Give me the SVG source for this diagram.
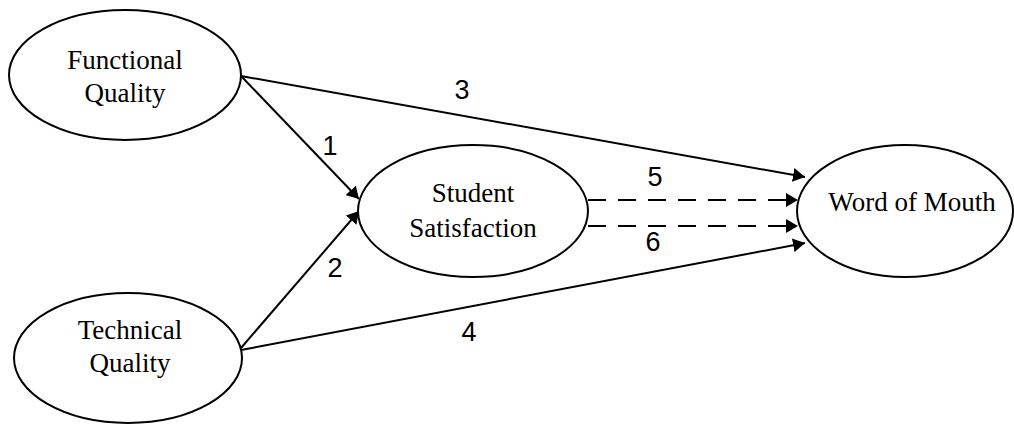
<svg xmlns="http://www.w3.org/2000/svg" width="1014" height="426" viewBox="0 0 1014 426">
<style>
.node ellipse{fill:#fff;stroke:#000;stroke-width:2}
.lbl{font-family:"Liberation Serif","Times New Roman",serif;font-size:27px;fill:#000;text-anchor:middle}
.num{font-family:"Liberation Sans",Arial,sans-serif;font-size:27px;fill:#000;text-anchor:middle}
.edge{stroke:#000;stroke-width:2;fill:none}
.dash{stroke-dasharray:18 12}
</style>
<defs>
<marker id="ah" viewBox="0 0 12 14" refX="12" refY="7" markerWidth="12" markerHeight="14" markerUnits="userSpaceOnUse" orient="auto">
<path d="M0,0 L12,7 L0,14 Z" fill="#000"/>
</marker>
</defs>
<rect width="1014" height="426" fill="#fff"/>
<g id="connectors">
<line class="edge" x1="241" y1="76" x2="359" y2="199" marker-end="url(#ah)"/>
<line class="edge" x1="241" y1="76" x2="805" y2="177" marker-end="url(#ah)"/>
<line class="edge" x1="241" y1="348" x2="359" y2="211" marker-end="url(#ah)"/>
<line class="edge" x1="241" y1="350" x2="805" y2="243" marker-end="url(#ah)"/>
<line class="edge dash" x1="588" y1="200" x2="798" y2="200" marker-end="url(#ah)"/>
<line class="edge dash" x1="588" y1="226" x2="798" y2="226" marker-end="url(#ah)"/>
<text class="num" x="330" y="155">1</text>
<text class="num" x="462" y="99">3</text>
<text class="num" x="335" y="277">2</text>
<text class="num" x="469" y="341">4</text>
<text class="num" x="655" y="186">5</text>
<text class="num" x="653" y="251">6</text>
</g>
<g id="functional-quality" class="node">
<ellipse cx="125" cy="75" rx="116" ry="65"/>
<text class="lbl" x="125" y="69">Functional</text>
<text class="lbl" x="125" y="102">Quality</text>
</g>
<g id="technical-quality" class="node">
<ellipse cx="128" cy="358" rx="114" ry="65"/>
<text class="lbl" x="130" y="339">Technical</text>
<text class="lbl" x="130" y="372">Quality</text>
</g>
<g id="student-satisfaction" class="node">
<ellipse cx="473" cy="211" rx="115" ry="66"/>
<text class="lbl" x="473" y="202">Student</text>
<text class="lbl" x="473" y="237">Satisfaction</text>
</g>
<g id="word-of-mouth" class="node">
<ellipse cx="905" cy="211" rx="108" ry="66"/>
<text class="lbl" x="912" y="211">Word of Mouth</text>
</g>
</svg>
